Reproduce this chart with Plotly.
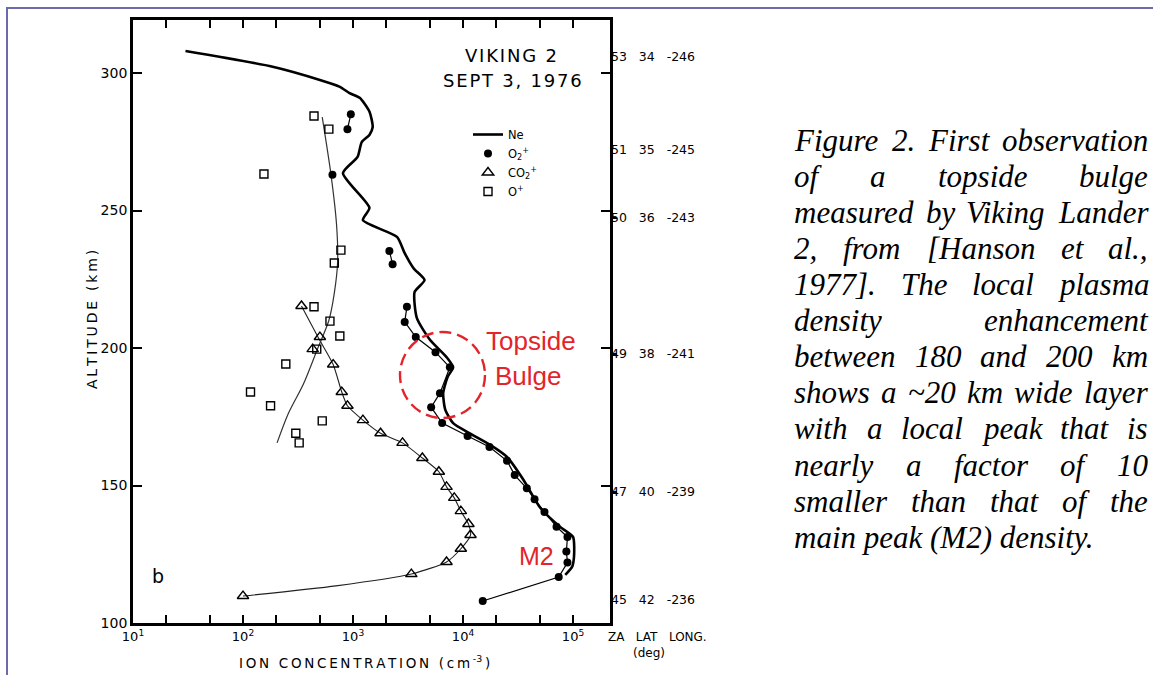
import plotly.graph_objects as go

# ---------------- data ----------------
ne_alt = [308.0, 302.3, 297.5, 295.0, 292.7, 291.0, 286.0, 280.4, 277.5, 274.9, 269.5, 263.6,
          251.0, 246.5, 240.4, 234.5, 229.0, 224.7, 220.4, 211.0, 203.0, 196.7, 193.0, 189.5,
          183.6, 177.5, 172.7, 169.0, 164.7, 160.4, 152.0, 142.0, 135.0, 131.3, 124.0, 120.4, 117.5]
ne_conc = [30, 186, 500, 760, 930, 1150, 1410, 1510, 1410, 1200, 1100, 810,
           1410, 1230, 2510, 2950, 3550, 4470, 3630, 3800, 5000, 7080, 8130, 7240,
           6600, 6900, 8130, 11500, 17800, 25100, 35500, 50100, 75900, 100000, 102000, 98000, 85000]

o2_alt = [285.0, 279.6, 263.0, 235.3, 230.5, 215.0, 209.5, 204.0, 198.5, 193.0, 183.6, 178.5,
          172.7, 168.0, 164.0, 159.0, 153.8, 149.0, 145.0, 140.4, 135.0, 131.3, 126.0, 122.0,
          116.7, 108.0]
o2_conc = [955, 890, 650, 2140, 2290, 3090, 2950, 3720, 5620, 7590, 6170, 5130,
           6460, 11000, 17400, 25100, 29500, 38000, 44700, 55000, 70800, 89000, 87000, 89000,
           74100, 15100]
o2_runs = [(0, 2), (3, 5), (5, 26)]

co2_alt = [215.3, 204.0, 199.6, 194.0, 184.0, 179.0, 173.8, 169.0, 165.5, 160.0, 155.0, 149.5,
           145.5, 140.7, 136.0, 132.0, 127.0, 122.2, 117.8, 109.8]
co2_conc = [340, 500, 430, 660, 790, 890, 1230, 1780, 2820, 4270, 6030, 7080,
            8320, 9550, 11200, 11700, 9550, 7080, 3390, 100]
co2_fit_alt = [215.3, 204.0, 194.0, 184.0, 179.0, 173.8, 169.0, 165.5, 160.0, 155.0, 149.5,
               145.5, 140.7, 136.0, 132.0, 127.0, 122.2, 117.8, 113.5, 109.8]
co2_fit_conc = [340, 480, 660, 790, 890, 1230, 1780, 2820, 4270, 6030, 7080,
                8320, 9550, 11200, 11700, 9550, 7080, 3390, 700, 100]

op_alt = [284.4, 279.6, 263.3, 235.6, 230.9, 215.0, 209.8, 204.4, 199.6, 194.2, 184.0, 179.0,
          173.5, 169.0, 165.5]
op_conc = [442, 603, 155, 776, 676, 442, 617, 759, 468, 245, 117, 178, 525, 302, 324]
op_fit_alt = [284, 263, 245, 231, 220, 210, 200, 187, 176, 165.5]
op_fit_conc = [525, 631, 708, 724, 676, 603, 479, 355, 257, 204]

x_major = [10, 100, 1000, 10000, 100000]
x_major_text = ["10<sup>1</sup>", "10<sup>2</sup>", "10<sup>3</sup>", "10<sup>4</sup>", "10<sup>5</sup>"]
x_minor = [20, 50, 200, 500, 2000, 5000, 20000, 50000]
y_tickvals = [100, 150, 200, 250, 300]
right_alt = [305.8, 272.0, 247.3, 197.8, 147.6, 108.5]
right_za = ["53", "51", "50", "49", "47", "45"]
right_lat = ["34", "35", "36", "38", "40", "42"]
right_long = ["-246", "-245", "-243", "-241", "-239", "-236"]
right_tick_alt = [247.3, 197.8, 147.6]

caption_lines = [
    "Figure 2. First observation",
    "of a topside bulge",
    "measured by Viking Lander",
    "2, from [Hanson et al.,",
    "1977]. The local plasma",
    "density enhancement",
    "between 180 and 200 km",
    "shows a ~20 km wide layer",
    "with a local peak that is",
    "nearly a factor of 10",
    "smaller than that of the",
    "main peak (M2) density.",
]

Y_RANGE = [100, 319.3]
X_RANGE = [1, 5.336]

# ---------------- layout helpers (pixel -> paper) ----------------
L, R, T, B = 133, 610, 20, 623


def PX(px):
    return (px - L) / (R - L)


def PY(py):
    return (B - py) / (B - T)


fig = go.Figure()

fig.add_trace(go.Scatter(x=ne_conc, y=ne_alt, mode="lines", name="Ne",
                         line=dict(color="black", width=2.6, shape="spline", smoothing=0.6),
                         legendrank=1, hoverinfo="skip"))

lx, ly = [], []
for a, b in o2_runs:
    lx += o2_conc[a:b] + [None]
    ly += o2_alt[a:b] + [None]
fig.add_trace(go.Scatter(x=lx, y=ly, mode="lines", showlegend=False,
                         line=dict(color="black", width=1.2), hoverinfo="skip"))
fig.add_trace(go.Scatter(x=co2_fit_conc, y=co2_fit_alt, mode="lines", showlegend=False,
                         line=dict(color="#222", width=1.1, shape="spline", smoothing=0.6),
                         hoverinfo="skip"))
fig.add_trace(go.Scatter(x=op_fit_conc, y=op_fit_alt, mode="lines", showlegend=False,
                         line=dict(color="#333", width=1.2, shape="spline", smoothing=0.8),
                         hoverinfo="skip"))

fig.add_trace(go.Scatter(x=o2_conc, y=o2_alt, mode="markers", name="O<sub>2</sub><sup>+</sup>",
                         marker=dict(symbol="circle", size=8, color="black"),
                         legendrank=2, hoverinfo="skip"))
fig.add_trace(go.Scatter(x=co2_conc, y=co2_alt, mode="markers", name="CO<sub>2</sub><sup>+</sup>",
                         marker=dict(symbol="triangle-up-open", size=10, color="black",
                                     line=dict(width=1.4)),
                         legendrank=3, hoverinfo="skip"))
fig.add_trace(go.Scatter(x=op_conc, y=op_alt, mode="markers", name="O<sup>+</sup>",
                         marker=dict(symbol="square-open", size=8, color="black",
                                     line=dict(width=1.4)),
                         legendrank=4, hoverinfo="skip"))

fig.add_trace(go.Scatter(x=[100], y=[200], yaxis="y2", mode="markers",
                         marker=dict(opacity=0), showlegend=False, hoverinfo="skip"))
fig.add_trace(go.Scatter(x=[100], y=[200], yaxis="y3", mode="markers",
                         marker=dict(opacity=0), showlegend=False, hoverinfo="skip"))

NB = "\u00a0"
right_text = [f"{a}{NB*3}{b}{NB*3}{c}" for a, b, c in zip(right_za, right_lat, right_long)]

axfont = dict(family="DejaVu Sans", color="black")
fig.update_layout(
    width=1153, height=675,
    margin=dict(l=L, r=1153 - R, t=T, b=675 - B),
    paper_bgcolor="white", plot_bgcolor="white",
    showlegend=True,
    legend=dict(x=PX(468), y=PY(120), xanchor="left", yanchor="top",
                bgcolor="rgba(0,0,0,0)", font=dict(family="DejaVu Sans", size=11.5, color="black"),
                itemwidth=30, tracegroupgap=0),
    xaxis=dict(type="log", range=X_RANGE, tickvals=x_major, ticktext=x_major_text,
               ticks="inside", ticklen=8, tickwidth=1.5, tickcolor="black",
               minor=dict(tickvals=x_minor, ticks="inside", ticklen=8, tickwidth=1.5,
                          tickcolor="black", showgrid=False),
               showline=True, linewidth=2.5, linecolor="black", mirror="ticks",
               showgrid=False, zeroline=False, tickfont=dict(size=13, **axfont)),
    yaxis=dict(range=Y_RANGE, tickvals=y_tickvals, ticks="inside", ticklen=9, tickwidth=1.5,
               tickcolor="black", showline=True, linewidth=2.8, linecolor="black",
               mirror="ticks", showgrid=False, zeroline=False,
               tickfont=dict(size=14, **axfont)),
    yaxis2=dict(overlaying="y", side="right", range=Y_RANGE, tickvals=right_alt,
                ticktext=right_text, ticks="", showline=False, showgrid=False, zeroline=False,
                tickfont=dict(size=12.5, **axfont)),
    yaxis3=dict(overlaying="y", side="right", range=Y_RANGE, tickvals=right_tick_alt,
                ticks="outside", ticklen=6, tickwidth=1.5, tickcolor="black",
                showticklabels=False, showline=False, showgrid=False, zeroline=False),
)

ann = []


def add_text(px, py, text, size, family="DejaVu Sans", color="black", xanchor="center", angle=0):
    ann.append(dict(x=PX(px), y=PY(py), xref="paper", yref="paper", text=text, showarrow=False,
                    xanchor=xanchor, yanchor="middle", textangle=angle,
                    font=dict(family=family, size=size, color=color)))


def spaced(s, gap):
    return gap.join(s)


HS = "\u200a"
TS = "\u2009"
add_text(511, 56, spaced("VIKING 2", HS), 18)
add_text(512, 80, spaced("SEPT 3, 1976", HS), 18)
add_text(92, 320, spaced("ALTITUDE (km)", TS), 14, angle=-90)
add_text(364, 662, spaced("ION CONCENTRATION (cm", TS) + TS + "<sup>-3</sup>" + TS + ")", 13.5)
add_text(158, 576, "b", 19)
add_text(606, 637, f"ZA{NB*3}LAT{NB*3}LONG.", 12, xanchor="left")
add_text(631, 653, "(deg)", 12, xanchor="left")

RED = "#e3242b"
add_text(531, 341, "Topside", 26, family="Liberation Sans", color=RED)
add_text(528, 376, "Bulge", 26, family="Liberation Sans", color=RED)
add_text(536, 556, "M2", 25, family="Liberation Sans", color=RED)

# caption: justified text, each word placed using Times-Italic advance widths
TW = {' ': 250, 'a': 500, 'b': 500, 'c': 444, 'd': 500, 'e': 444, 'f': 278, 'g': 500, 'h': 500,
      'i': 278, 'j': 278, 'k': 444, 'l': 278, 'm': 722, 'n': 500, 'o': 500, 'p': 500, 'q': 500,
      'r': 389, 's': 389, 't': 278, 'u': 500, 'v': 444, 'w': 667, 'x': 444, 'y': 444, 'z': 389,
      'F': 611, 'V': 611, 'H': 722, 'T': 556, 'M': 833, 'L': 556, '.': 250, ',': 250, '[': 389,
      ']': 389, '(': 333, ')': 333, '~': 541, '-': 333}
CAP_SIZE = 31
CAP_L, CAP_R = 792, 1146


def wwidth(w):
    return sum(TW.get(c, 500) for c in w) * CAP_SIZE / 1000.0


for k, line in enumerate(caption_lines):
    cy = 143.4 + 36.07 * k - 3
    words = line.split(" ")
    if k == len(caption_lines) - 1:
        add_text(CAP_L, cy, f"<i>{line}</i>", CAP_SIZE, family="Liberation Serif", xanchor="left")
        continue
    widths = [wwidth(w) for w in words]
    gap = (CAP_R - CAP_L - sum(widths)) / (len(words) - 1)
    xpos = CAP_L
    for w, wd in zip(words, widths):
        add_text(xpos, cy, f"<i>{w}</i>", CAP_SIZE, family="Liberation Serif", xanchor="left")
        xpos += wd + gap

fig.update_layout(annotations=ann)

fig.update_layout(shapes=[
    dict(type="circle", xref="paper", yref="paper", x0=PX(400), x1=PX(485), y0=PY(418), y1=PY(332),
         line=dict(color=RED, width=2.4, dash="12px,6px")),
    dict(type="rect", xref="paper", yref="paper", x0=PX(7), x1=PX(1160), y0=PY(690), y1=PY(8),
         line=dict(color="#6b6ba8", width=2)),
])

fig.write_html("out.html", config={"displayModeBar": False},
               post_script="document.body.style.margin='0';document.body.style.overflow='hidden';")
